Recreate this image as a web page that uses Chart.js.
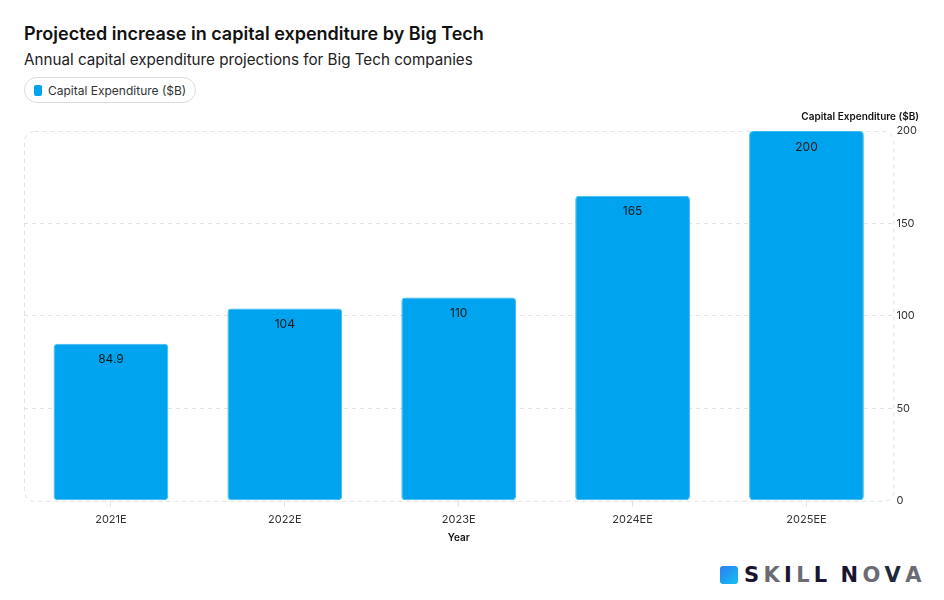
<!DOCTYPE html>
<html>
<head>
<meta charset="utf-8">
<script src="https://cdn.jsdelivr.net/npm/chart.js@4"></script>
<style>
  body { margin: 0; background: #fff; font-family: Inter, "Noto Sans", sans-serif; }
  .wrap { position: relative; width: 944px; height: 600px; overflow: hidden; }
  .title { position: absolute; left: 24px; top: 23px; font-size: 18px; font-weight: 600; color: #111; }
  .subtitle { position: absolute; left: 24px; top: 50px; font-size: 15.2px; color: #222; }
  .legend { position: absolute; left: 24px; top: 77px; height: 24px; padding: 0 9px 0 9px;
            border: 1px solid #dcdcdc; border-radius: 13px; display: flex; align-items: center;
            font-size: 12px; color: #333; }
  .legend i { display: inline-block; width: 8px; height: 11px; border-radius: 2px; background: #00a3ee; margin-right: 6px; }
  .chart-box { position: absolute; left: 0; top: 100px; width: 944px; height: 452px; }
  .logo { position: absolute; left: 720px; top: 565px; display: flex; align-items: center; }
  .logo .icon { width: 18px; height: 18px; border-radius: 3px; background: linear-gradient(135deg, #2f7cf6, #12c2f0); margin-right: 6px; }
  .logo span { font-family: "DejaVu Sans", sans-serif; font-weight: bold; font-size: 21px; letter-spacing: 4.3px; line-height: 20px; }
</style>
</head>
<body>
<div class="wrap">
  <div class="title">Projected increase in capital expenditure by Big Tech</div>
  <div class="subtitle">Annual capital expenditure projections for Big Tech companies</div>
  <div class="legend"><i></i>Capital Expenditure ($B)</div>
  <div class="chart-box"><canvas id="capexChart"></canvas></div>
  <div class="logo">
    <div class="icon"></div>
    <span style="color:#1b1430">S</span><span style="color:#6b6b73">K</span><span style="color:#1b1430">I</span><span style="color:#6b6b73">L</span><span style="color:#1b1430">L</span>
    <span style="color:#1b1430;margin-left:9px">N</span><span style="color:#6b6b73">O</span><span style="color:#1e2a3a">V</span><span style="color:#6b6b73">A</span>
  </div>
</div>

<script>
// ===================================
// Chart data
// ===================================
const YEARS = ['2021E', '2022E', '2023E', '2024EE', '2025EE'];
const CAPEX = [84.9, 104, 110, 165, 200];
const Y_TICKS = [0, 50, 100, 150, 200];

const BAR_COLOR = '#00a3ee';
const GRID_COLOR = '#e2e2e2';

// rounded dashed frame round the plot area
const framePlugin = {
    id: 'frame',
    beforeDatasetsDraw(chart) {
        const { ctx, chartArea: a } = chart;
        ctx.save();
        ctx.strokeStyle = GRID_COLOR;
        ctx.lineWidth = 1;
        ctx.setLineDash([4, 4]);
        ctx.beginPath();
        ctx.roundRect(a.left + 0.5, a.top + 0.5, a.right - a.left, a.bottom - a.top, 10);
        ctx.stroke();
        ctx.restore();
    }
};

// value labels inside the top of each bar
const valueLabels = {
    id: 'valueLabels',
    afterDatasetsDraw(chart) {
        const { ctx } = chart;
        const meta = chart.getDatasetMeta(0);
        ctx.save();
        ctx.font = '12px Inter';
        ctx.fillStyle = '#1a1a1a';
        ctx.textAlign = 'center';
        ctx.textBaseline = 'middle';
        meta.data.forEach((bar, i) => {
            ctx.fillText(String(CAPEX[i]), bar.x, bar.y + 16);
        });
        ctx.restore();
    }
};

// horizontal y-axis title above the right axis
const yTitle = {
    id: 'yTitle',
    afterDraw(chart) {
        const { ctx } = chart;
        const y = chart.scales.y;
        ctx.save();
        ctx.font = '600 10px Inter';
        ctx.fillStyle = '#111';
        ctx.textAlign = 'right';
        ctx.textBaseline = 'middle';
        ctx.fillText('Capital Expenditure ($B)', chart.width - 25, y.top - 14);
        ctx.restore();
    }
};

const ctx = document.getElementById('capexChart').getContext('2d');

new Chart(ctx, {
    type: 'bar',
    data: {
        labels: YEARS,
        datasets: [{
            label: 'Capital Expenditure ($B)',
            data: CAPEX,
            backgroundColor: BAR_COLOR,
            borderColor: '#3cb8f2',
            borderWidth: 1,
            borderRadius: 4,
            borderSkipped: false,
            categoryPercentage: 0.66,
            barPercentage: 1
        }]
    },
    options: {
        responsive: true,
        maintainAspectRatio: false,
        animation: false,
        layout: { padding: { top: 31, left: 24, right: 24, bottom: 8 } },
        plugins: {
            legend: { display: false },
            title: { display: false },
            tooltip: { enabled: false }
        },
        scales: {
            x: {
                grid: {
                    offset: false,
                    drawOnChartArea: false,
                    drawTicks: true,
                    tickLength: 6,
                    color: GRID_COLOR
                },
                border: { display: false },
                ticks: { color: '#333', font: { family: 'Inter', size: 11 }, padding: 6 },
                title: {
                    display: true,
                    text: 'Year',
                    color: '#111',
                    font: { family: 'Inter', size: 10, weight: '600' },
                    padding: { top: 0, bottom: 0 }
                }
            },
            y: {
                position: 'right',
                min: 0,
                max: 200,
                afterBuildTicks(scale) {
                    scale.ticks = Y_TICKS.map(v => ({ value: v }));
                },
                grid: {
                    drawTicks: false,
                    color: c => (c.tick.value === 0 || c.tick.value === 200) ? 'rgba(0,0,0,0)' : GRID_COLOR
                },
                border: { display: false, dash: [4, 4] },
                ticks: { color: '#333', font: { family: 'Inter', size: 11 }, padding: 3 }
            }
        }
    },
    plugins: [framePlugin, valueLabels, yTitle]
});
</script>
</body>
</html>
